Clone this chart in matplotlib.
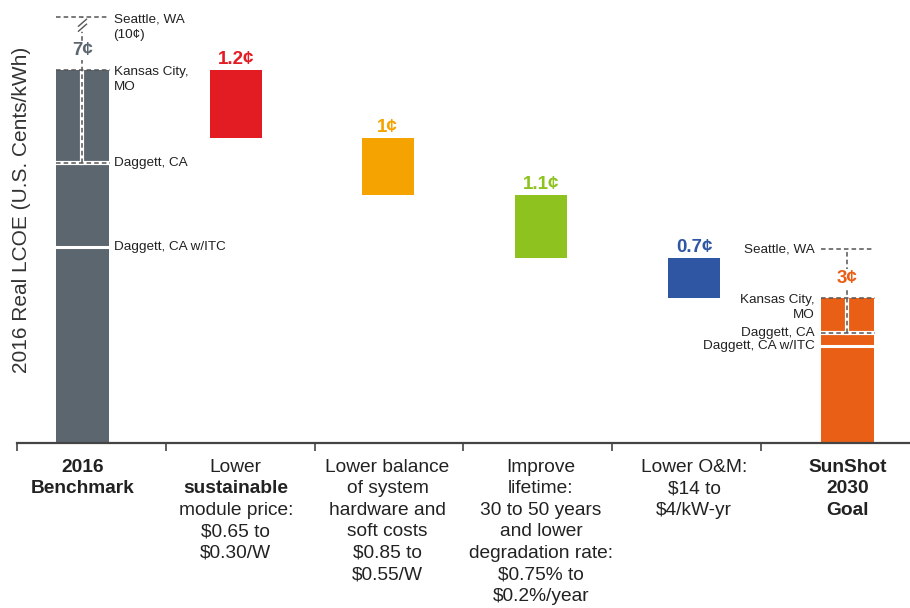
import numpy as np
import matplotlib
matplotlib.use('Agg')
import matplotlib.pyplot as plt
from matplotlib.transforms import blended_transform_factory

plt.rcParams['font.family'] = ['Liberation Sans', 'DejaVu Sans']

# LCOE values in U.S. cents/kWh
benchmark = 6.55
steps = [1.2, 1.0, 1.1, 0.7]
step_labels = ['1.2¢', '1¢', '1.1¢', '0.7¢']
bench_label = '7¢'
goal_label = '3¢'

# location reference levels (Seattle, Kansas City, Daggett, Daggett w/ITC)
bench_refs = [7.47, 6.55, 4.91, 3.44]
goal_refs = [3.40, 2.55, 1.93, 1.70]
bench_ref_text = ['Seattle, WA\n(10¢)', 'Kansas City,\nMO', 'Daggett, CA', 'Daggett, CA w/ITC']
goal_ref_text = ['Seattle, WA', 'Kansas City,\nMO', 'Daggett, CA', 'Daggett, CA w/ITC']

categories = [
    [('2016', True), ('Benchmark', True)],
    [('Lower', False), ('sustainable', True), ('module price:', False), ('$0.65 to', False), ('$0.30/W', False)],
    [('Lower balance', False), ('of system', False), ('hardware and', False), ('soft costs', False),
     ('$0.85 to', False), ('$0.55/W', False)],
    [('Improve', False), ('lifetime:', False), ('30 to 50 years', False), ('and lower', False),
     ('degradation rate:', False), ('$0.75% to', False), ('$0.2%/year', False)],
    [('Lower O&M:', False), ('$14 to', False), ('$4/kW-yr', False)],
    [('SunShot', True), ('2030', True), ('Goal', True)],
]

bench_color = '#5c666f'
goal_color = '#e95f15'
step_colors = ['#e31b23', '#f5a300', '#8dc21f', '#2e56a3']
dash_color = '#555555'

# layout
bar_x = [0.44, 1.47, 2.49, 3.52, 4.55, 5.58]
w = 0.35
px_y = 57.0      # pixels per cent
px_x = 148.8     # pixels per category

fig = plt.figure(figsize=(9.1, 6.08), dpi=100)
ax = fig.add_axes([17 / 910, 165 / 608, 893 / 910, 443 / 608])
ax.set_xlim(0, 6)
ax.set_ylim(0, 443 / px_y)

# bars
ax.bar(bar_x[0], benchmark, width=w, color=bench_color, zorder=2)
level = benchmark
for i, s in enumerate(steps):
    ax.bar(bar_x[i + 1], s, bottom=level - s, width=w, color=step_colors[i], zorder=2)
    ax.text(bar_x[i + 1], level + 6 / px_y, step_labels[i], ha='center', va='baseline',
            fontsize=13.5, fontweight='bold', color=step_colors[i])
    level -= s
goal = level
ax.bar(bar_x[5], goal, width=w, color=goal_color, zorder=2)


def ref_lines(cx, refs):
    x0, x1 = cx - w / 2, cx + w / 2
    top = refs[1]
    dash = dict(color=dash_color, lw=1.1, ls=(0, (3, 2)), zorder=4)
    # Seattle and Kansas City dashed lines
    ax.plot([x0, x1], [refs[0], refs[0]], **dash)
    ax.plot([x0, x1 + 0.01], [refs[1], refs[1]], **dash)
    # Daggett: white gap + dashes
    ax.plot([x0, x1], [refs[2], refs[2]], color='white', lw=3, zorder=3)
    ax.plot([x0, x1 + 0.01], [refs[2], refs[2]], **dash)
    # Daggett w/ITC: white line
    ax.plot([x0, x1], [refs[3], refs[3]], color='white', lw=2.2, zorder=3)
    # vertical range
    ax.plot([cx, cx], [refs[2], top], color='white', lw=3, zorder=3)
    ax.plot([cx, cx], [refs[2], refs[0]], **dash)


ref_lines(bar_x[0], bench_refs)
ref_lines(bar_x[5], goal_refs)

# break marks on the benchmark Seattle line
cx = bar_x[0]
ymid = bench_refs[0] - 8 / px_y
ax.plot([cx, cx], [ymid - 4 / px_y, ymid + 4 / px_y], color='white', lw=4, zorder=5)
for d in (-2.5, 2.5):
    yy = ymid + d / px_y
    ax.plot([cx - 4 / px_x, cx + 4 / px_x], [yy - 3.5 / px_y, yy + 3.5 / px_y],
            color=dash_color, lw=1, zorder=6)

# range labels
for x, y, lab, col in [(bar_x[0], bench_refs[1], bench_label, bench_color),
                       (bar_x[5], goal_refs[1], goal_label, goal_color)]:
    ax.text(x, y + 15 / px_y, lab, ha='center', va='baseline', fontsize=13.5, fontweight='bold',
            color=col, zorder=7, bbox=dict(boxstyle='square,pad=0.05', fc='white', ec='none'))

# location labels
for y, lab in zip(bench_refs, bench_ref_text):
    multi = '\n' in lab
    ax.text(bar_x[0] + w / 2 + 5 / px_x, y + (4 / px_y if multi else 0), lab,
            ha='left', va='top' if multi else 'center', fontsize=9.7, color='#222222',
            linespacing=1.4)
for y, lab in zip(goal_refs, goal_ref_text):
    multi = '\n' in lab
    ax.text(bar_x[5] - w / 2 - 7 / px_x, y + (4 / px_y if multi else 0), lab,
            ha='right', va='top' if multi else 'center', fontsize=9.7, color='#222222',
            linespacing=1.4, multialignment='right')

# axis styling
for s in ['left', 'top', 'right']:
    ax.spines[s].set_visible(False)
ax.spines['bottom'].set_color('#444444')
ax.spines['bottom'].set_linewidth(1.6)
ax.set_xticks(range(6))
ax.set_xticklabels([])
ax.set_yticks([])
ax.tick_params(axis='x', direction='out', length=6, width=1.2, color='#444444')

# category labels
trans = blended_transform_factory(ax.transData, ax.transAxes)
for x, lines in zip(bar_x, categories):
    for j, (txt, bold) in enumerate(lines):
        ypix = 467 + 21.6 * j
        ax.text(x, (443 - ypix) / 443, txt, transform=trans, ha='center', va='center',
                fontsize=13.8, fontweight='bold' if bold else 'normal', color='#222222', clip_on=False)

fig.text(22 / 910, 1 - 210 / 608, '2016 Real LCOE (U.S. Cents/kWh)', rotation=90,
         ha='center', va='center', fontsize=15, color='#333333')

fig.savefig('out.png', dpi=100)
